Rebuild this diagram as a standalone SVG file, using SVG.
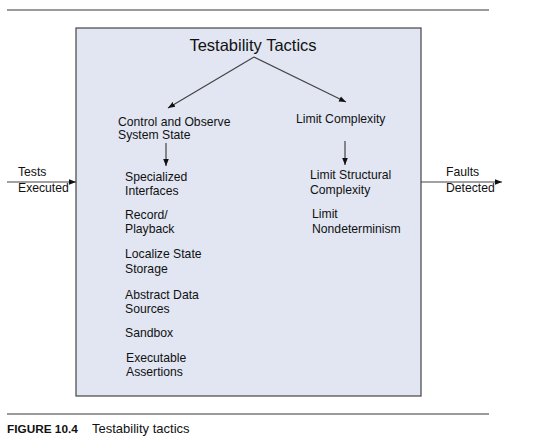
<svg xmlns="http://www.w3.org/2000/svg" width="538" height="448" viewBox="0 0 538 448">
<style>
text{font-family:"Liberation Sans",Arial,sans-serif;fill:#111;}
.t{font-size:12.2px;}
.c{stroke:#444;stroke-width:1.2;fill:none;}
.rule{stroke:#9a9a9a;stroke-width:2;}
</style>
<defs>
<marker id="ah" viewBox="0 0 10 10" refX="10" refY="5" markerWidth="7" markerHeight="7" markerUnits="userSpaceOnUse" orient="auto"><path d="M0,1 L10,5 L0,9 z" fill="#111"/></marker>
</defs>
<line class="rule" x1="7" y1="10" x2="489" y2="10"/>
<line class="rule" x1="7" y1="414" x2="489" y2="414"/>
<g id="box">
<rect x="76" y="28" width="345" height="368" fill="#e1e6f2" stroke="#444" stroke-width="1.2"/>
</g>
<g id="title"><text x="253" y="51" font-size="16.5" text-anchor="middle">Testability Tactics</text></g>
<g id="control"><text class="t" x="118" y="126">Control and Observe</text><text class="t" x="118" y="139">System State</text></g>
<g id="limitc"><text class="t" x="296" y="123">Limit Complexity</text></g>
<g id="spec"><text class="t" x="125" y="181">Specialized</text><text class="t" x="125" y="195">Interfaces</text></g>
<g id="rec"><text class="t" x="125" y="219">Record/</text><text class="t" x="125" y="233">Playback</text></g>
<g id="loc"><text class="t" x="125" y="258">Localize State</text><text class="t" x="125" y="273">Storage</text></g>
<g id="abs"><text class="t" x="125" y="299">Abstract Data</text><text class="t" x="125" y="313">Sources</text></g>
<g id="sand"><text class="t" x="125" y="337">Sandbox</text></g>
<g id="exe"><text class="t" x="126" y="362">Executable</text><text class="t" x="126" y="376">Assertions</text></g>
<g id="lsc"><text class="t" x="310" y="179">Limit Structural</text><text class="t" x="310" y="194">Complexity</text></g>
<g id="lnd"><text class="t" x="312" y="218">Limit</text><text class="t" x="312" y="233">Nondeterminism</text></g>
<g id="tests"><text class="t" x="18" y="176">Tests</text><text class="t" x="18" y="192">Executed</text></g>
<g id="faults"><text class="t" x="446" y="176">Faults</text><text class="t" x="446" y="192">Detected</text></g>
<g id="connectors">
<line class="c" x1="254" y1="57" x2="168" y2="108" marker-end="url(#ah)"/>
<line class="c" x1="254" y1="57" x2="346" y2="102" marker-end="url(#ah)"/>
<line class="c" x1="166" y1="143" x2="166" y2="166" marker-end="url(#ah)"/>
<line class="c" x1="345" y1="141" x2="345" y2="165" marker-end="url(#ah)"/>
<line class="c" x1="7" y1="182" x2="76" y2="182" marker-end="url(#ah)"/>
<line class="c" x1="421" y1="182" x2="502" y2="182" marker-end="url(#ah)"/>
</g>
<g id="caption"><text x="7" y="433" font-size="11.8" font-weight="bold">FIGURE 10.4</text><text x="92" y="433" font-size="13">Testability tactics</text></g>
</svg>
